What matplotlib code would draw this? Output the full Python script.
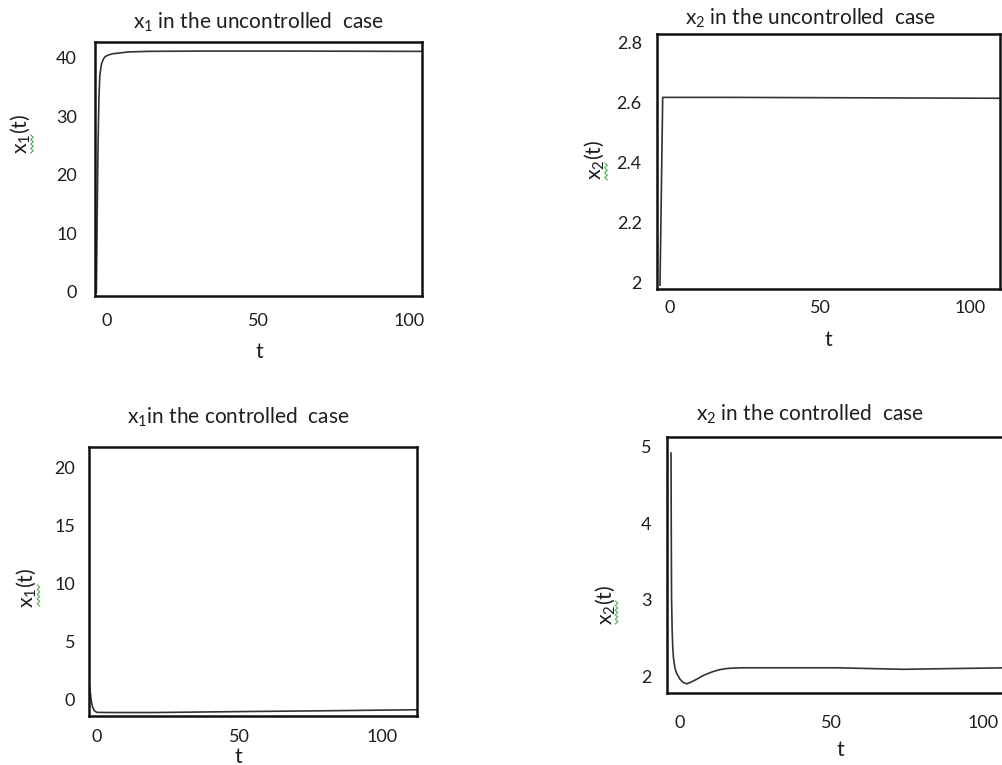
import matplotlib
matplotlib.use("Agg")
import matplotlib.pyplot as plt
from matplotlib.lines import Line2D

plt.rcParams['font.family'] = ['Lato', 'DejaVu Sans']
plt.rcParams['mathtext.default'] = 'regular'

W, H = 1003, 765

# x1, uncontrolled
t_x1_unc = [-3.55, -3.3, -3.0, -2.7, -2.4, -2.0, -1.75, -1.2, -0.66, 0.5, 2, 3.7, 7, 13.6, 30, 60, 100, 104.3]
x1_unc = [0, 12, 25, 33, 37, 38.5, 39.1, 39.8, 40.2, 40.5, 40.7, 40.8, 41.0, 41.1, 41.15, 41.15, 41.1, 41.1]

# x2, uncontrolled
t_x2_unc = [-3.3, -2.4, 20, 50, 80, 110]
x2_unc = [1.99, 2.618, 2.618, 2.617, 2.616, 2.615]

# x1, controlled
t_x1_ctl = [-2.8, -2.5, -2.2, -1.9, -1.5, -1.0, -0.1, 5, 20, 50, 80, 112.3]
x1_ctl = [1.5, 0.9, 0.3, -0.26, -0.65, -0.92, -1.09, -1.1, -1.1, -1.02, -0.95, -0.86]

# x2, controlled
t_x2_ctl = [-2.97, -2.9, -2.8, -2.6, -2.4, -2.2, -1.7, -1.1, 0, 1.0, 2.2, 3.5, 5.5, 7.7, 10.5, 13, 15.4, 18, 20.8, 35, 51.7, 73.7, 90, 108.9]
x2_ctl = [4.92, 4.0, 3.04, 2.6, 2.38, 2.25, 2.11, 2.035, 1.96, 1.92, 1.90, 1.92, 1.96, 2.01, 2.055, 2.085, 2.10, 2.107, 2.11, 2.11, 2.11, 2.09, 2.10, 2.11]

x_ticks = [0, 50, 100]
x_tick_labels = ['0', '50', '100']


def fx(px):
    return px / W


def fy(py):
    return 1 - py / H


fig = plt.figure(figsize=(W / 100, H / 100), dpi=100)

TEXT = '#1e1e1e'
LINE = '#333333'


def make_axes(box, xlim, ylim, yticks, ylabels, xpad, ypad):
    left, top, right, bottom = box
    ax = fig.add_axes([fx(left), fy(bottom), (right - left) / W, (bottom - top) / H])
    ax.set_xlim(*xlim)
    ax.set_ylim(*ylim)
    ax.set_xticks(x_ticks)
    ax.set_xticklabels(x_tick_labels)
    ax.set_yticks(yticks)
    ax.set_yticklabels(ylabels)
    ax.tick_params(axis='x', length=0, pad=xpad, labelsize=13, labelcolor=TEXT)
    ax.tick_params(axis='y', length=0, pad=ypad, labelsize=13, labelcolor=TEXT)
    for s in ax.spines.values():
        s.set_linewidth(1.8)
        s.set_color('#111111')
    return ax


# top-left
ax1 = make_axes((95, 42, 422, 296), (-4, 104.3), (-0.7, 42.7),
                [0, 10, 20, 30, 40], ['0', '10', '20', '30', '40'], 12, 13)
ax1.plot(t_x1_unc, x1_unc, color=LINE, lw=1.2)

# top-right
ax2 = make_axes((657, 34, 1000, 289), (-4.3, 110), (1.977, 2.83),
                [2.0, 2.2, 2.4, 2.6, 2.8], ['2', '2.2', '2.4', '2.6', '2.8'], 8, 11)
ax2.plot(t_x2_unc, x2_unc, color=LINE, lw=1.2)

# bottom-left
ax3 = make_axes((89, 447, 417, 716), (-2.8, 112.3), (-1.4, 21.8),
                [0, 5, 10, 15, 20], ['0', '5', '10', '15', '20'], 9, 10)
ax3.plot(t_x1_ctl, x1_ctl, color=LINE, lw=1.2)

# bottom-right (frame runs past the right edge)
ax4 = make_axes((667, 437, 1010, 693), (-4.3, 108.9), (1.78, 5.13),
                [2, 3, 4, 5], ['2', '3', '4', '5'], 16, 11)
ax4.plot(t_x2_ctl, x2_ctl, color=LINE, lw=1.2)

# titles
title_kw = dict(ha='center', va='center', fontsize=15, color=TEXT)
fig.text(fx(258), fy(22), r'x$_1$ in the uncontrolled  case', **title_kw)
fig.text(fx(810), fy(18), r'x$_2$ in the uncontrolled  case', **title_kw)
fig.text(fx(238), fy(417), r'x$_1$in the controlled  case', **title_kw)
fig.text(fx(810), fy(414), r'x$_2$ in the controlled  case', **title_kw)

# axis labels
lab_kw = dict(ha='center', va='center', fontsize=15.5, color=TEXT)
ylab_pos = [(20, 134), (594, 160), (26, 588), (605, 605)]
ylab_txt = [r'x$_1$(t)', r'x$_2$(t)', r'x$_1$(t)', r'x$_2$(t)']
for (px, py), s in zip(ylab_pos, ylab_txt):
    fig.text(fx(px), fy(py), s, rotation=90, **lab_kw)

# green proofing squiggles beside the subscripts
squiggles = [(32, 135, 153), (606, 163, 180), (38.5, 585, 606), (616.5, 601, 624)]
for sx, y0, y1 in squiggles:
    n = int((y1 - y0) / 2.2)
    ys = [y0 + i * (y1 - y0) / n for i in range(n + 1)]
    xs = [sx + (1.3 if i % 2 else -1.3) for i in range(n + 1)]
    fig.add_artist(Line2D([fx(v) for v in xs], [fy(v) for v in ys],
                          transform=fig.transFigure, color='#4caf50', lw=0.8))

fig.text(fx(259), fy(352), 't', **lab_kw)
fig.text(fx(828), fy(340), 't', **lab_kw)
fig.text(fx(238), fy(757), 't', **lab_kw)
fig.text(fx(840), fy(750), 't', **lab_kw)

fig.savefig('out.png', dpi=100)
